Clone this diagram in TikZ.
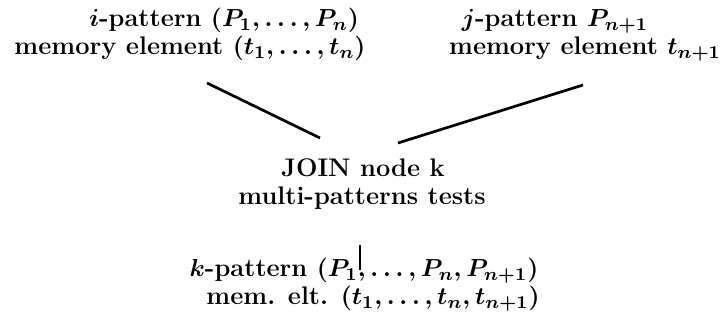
\documentclass[tikz,border=0pt]{standalone}
\usetikzlibrary{calc}
\begin{document}
\begin{tikzpicture}[x=0.444pt,y=-0.444pt,
  lbl/.style={anchor=base,inner sep=0pt,font=\fontsize{11.3}{13}\selectfont\bfseries\boldmath},
  conn/.style={line width=1.2pt}]
\useasboundingbox (0,0) rectangle (726,321);
\node[lbl] (A1) at (224,27) {$i$-pattern $(P_1,\ldots,P_n)$};
\node[lbl] (A2) at (190,55) {memory element $(t_1,\ldots,t_n)$};
\node[lbl] (B1) at (555,27) {$j$-pattern $P_{n+1}$};
\node[lbl] (B2) at (585,55) {memory element $t_{n+1}$};
\node[lbl] (C1) at (363,177) {JOIN node k};
\node[lbl] (C2) at (362,205) {multi-patterns tests};
\node[lbl] (D1) at (364,277) {$k$-pattern $(P_1,\ldots,P_n,P_{n+1})$};
\node[lbl] (D2) at (373,305) {mem. elt. $(t_1,\ldots,t_n,t_{n+1})$};
\draw[conn] ($(A2.base)+(17,28)$) -- ($(C1.base)+(-43,-39)$);
\draw[conn] ($(B2.base)+(-2,30)$) -- ($(C1.base)+(35,-34)$);
\draw[conn] ($(C2.base)+(-2,40)$) -- ($(D1.base)+(-4,-7)$);
\end{tikzpicture}
\end{document}
